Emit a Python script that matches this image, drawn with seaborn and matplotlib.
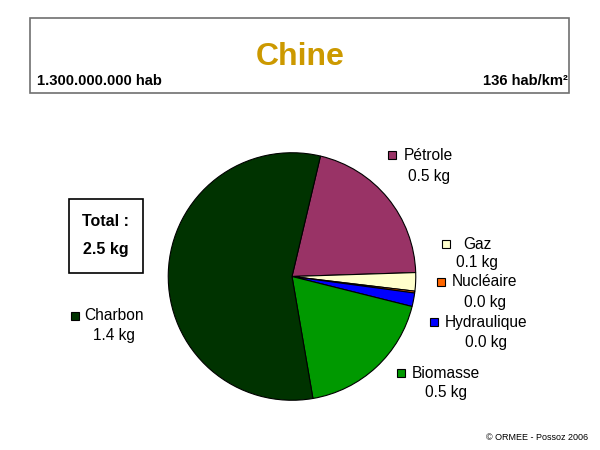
import matplotlib
matplotlib.use('Agg')
import matplotlib.pyplot as plt
from matplotlib.patches import Rectangle
import seaborn as sns

# Data (kg per person)
sources = ['Pétrole', 'Gaz', 'Nucléaire', 'Hydraulique', 'Biomasse', 'Charbon']
values = [0.52, 0.06, 0.006, 0.044, 0.46, 1.41]
shown = ['0.5 kg', '0.1 kg', '0.0 kg', '0.0 kg', '0.5 kg', '1.4 kg']
colors = ['#993366', '#FFFFCC', '#FF6600', '#0000FF', '#009900', '#003300']

country = 'Chine'
population = '1.300.000.000 hab'
density = '136 hab/km²'
total = '2.5 kg'

sns.set_theme(style='white')
plt.rcParams['font.family'] = ['Liberation Sans', 'DejaVu Sans']
plt.rcParams['text.color'] = 'black'

W, H = 600, 450
fig = plt.figure(figsize=(6, 4.5), dpi=100)
fig.patch.set_facecolor('white')


def px(x, y):
    return x / W, 1 - y / H


# header box
fig.patches.append(Rectangle(px(30, 93.3), 539 / W, 75 / H, transform=fig.transFigure,
                             fill=False, edgecolor='#707070', linewidth=1.2))
fig.text(*px(300, 57), country, ha='center', va='center', fontsize=23,
         fontweight='bold', color='#CC9900')
fig.text(*px(37, 81), population, ha='left', va='center', fontsize=10.6, fontweight='bold')
fig.text(*px(568, 81), density, ha='right', va='center', fontsize=10.6, fontweight='bold')

# pie
cx, cy, r = 292, 276.5, 125
ax = fig.add_axes([(cx - r) / W, (H - cy - r) / H, 2 * r / W, 2 * r / H])
ax.pie(values, colors=colors, startangle=76.7, counterclock=False,
       wedgeprops=dict(edgecolor='black', linewidth=0.8))
ax.set_xlim(-1.01, 1.01)
ax.set_ylim(-1.01, 1.01)
ax.set_aspect('equal')
ax.axis('off')

# labels: square position, text start, value centre
label_pos = [(392, 155, 404, 176), (446, 244, 463, 263), (441, 282, 452, 302),
             (434, 322, 445, 343), (401, 373, 412, 393), (75, 315.5, 84, 335.5)]
renderer = fig.canvas.get_renderer()
for name, val, col, (sx, sy, tx, vy) in zip(sources, shown, colors, label_pos):
    fig.patches.append(Rectangle(px(sx - 4, sy + 4), 8 / W, 8 / H,
                                 transform=fig.transFigure, facecolor=col,
                                 edgecolor='black', linewidth=0.8))
    t = fig.text(*px(tx, sy), name, ha='left', va='center', fontsize=11.2)
    bb = t.get_window_extent(renderer)
    mid = (bb.x0 + bb.x1) / 2 / W
    fig.text(mid, 1 - vy / H, val, ha='center', va='center', fontsize=11.2)

# total box
fig.patches.append(Rectangle(px(69, 272.7), 73.7 / W, 73.7 / H, transform=fig.transFigure,
                             fill=False, edgecolor='black', linewidth=1.2))
fig.text(*px(106, 221.5), 'Total :', ha='center', va='center', fontsize=11.5, fontweight='bold')
fig.text(*px(106, 249.5), total, ha='center', va='center', fontsize=11.5, fontweight='bold')

fig.text(*px(588, 438), '© ORMEE - Possoz 2006', ha='right', va='center', fontsize=6.5)

fig.savefig('out.png', dpi=100)
